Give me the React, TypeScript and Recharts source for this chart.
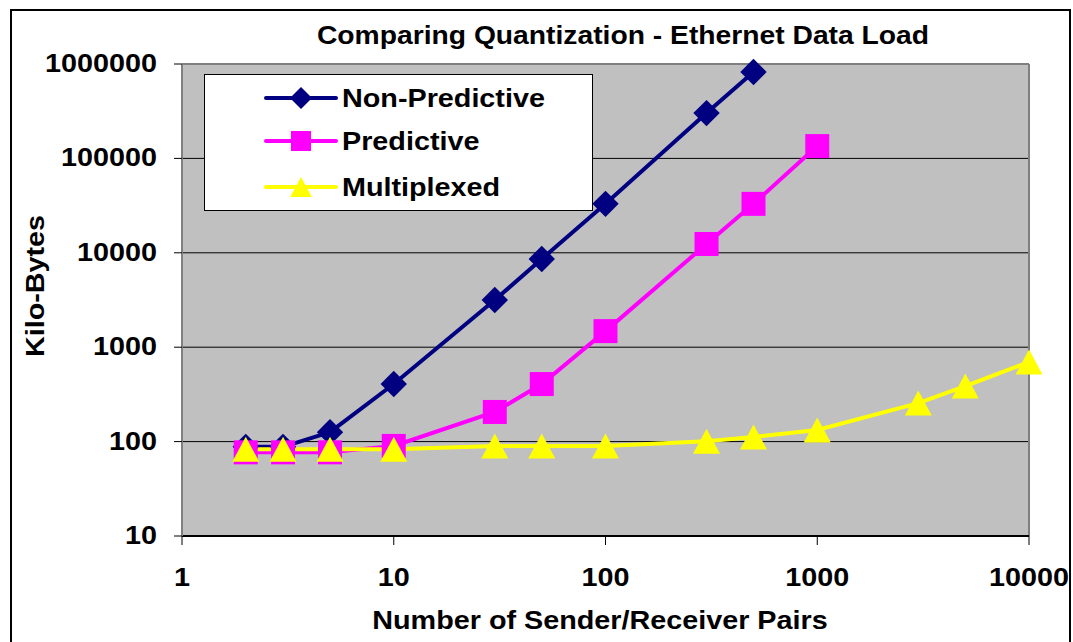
import React from 'react';
import { LineChart, Line, XAxis, YAxis, CartesianGrid, ReferenceLine, Legend } from 'recharts';

const nonPredX = [2, 3, 5, 10, 30, 50, 100, 300, 500];
const nonPredY = [88, 88, 126, 407, 3160, 8600, 33000, 302000, 822000];
const predX = [2, 3, 5, 10, 30, 50, 100, 300, 500, 1000];
const predY = [77, 77, 77, 90, 206, 407, 1480, 12400, 33000, 135000];
const multiX = [2, 3, 5, 10, 30, 50, 100, 300, 500, 1000, 3000, 5000, 10000];
const multiY = [83, 83, 83, 83, 90, 90, 90, 101, 112, 133, 256, 388, 697];

const xTicks = [1, 10, 100, 1000, 10000];
const yTicks = [10, 100, 1000, 10000, 100000, 1000000];

const seriesNames = ['Non-Predictive', 'Predictive', 'Multiplexed'];
const seriesColors = ['#000080', '#FF00FF', '#FFFF00'];

const toPoints = (xs: number[], ys: number[]) => xs.map((x, i) => ({ x, y: ys[i] }));
const nonPredData = toPoints(nonPredX, nonPredY);
const predData = toPoints(predX, predY);
const multiData = toPoints(multiX, multiY);

const FONT = '"Liberation Sans", Arial, sans-serif';
const STRETCH = 1.15;

const shapeFor = (kind: number, cx: number, cy: number, s: number, color: string, key?: string) => {
  if (kind === 0) {
    const h = s * 0.55;
    return <polygon key={key} points={`${cx},${cy - h} ${cx + h},${cy} ${cx},${cy + h} ${cx - h},${cy}`} fill={color} />;
  }
  if (kind === 1) {
    const h = s / 2;
    return <rect key={key} x={cx - h} y={cy - h} width={s} height={s} fill={color} />;
  }
  const w = s * 1.08;
  const hh = s;
  return <polygon key={key} points={`${cx},${cy - hh / 2} ${cx + w / 2},${cy + hh / 2} ${cx - w / 2},${cy + hh / 2}`} fill={color} />;
};

const makeDot = (kind: number, color: string, size: number) => (props: any) => {
  const { cx, cy, index } = props;
  if (cx == null || cy == null) return <g key={`e-${kind}-${index}`} />;
  return shapeFor(kind, cx, cy, size, color, `d-${kind}-${index}`);
};

const XTick = (props: any) => {
  const { x, y, payload } = props;
  return (
    <g transform={`translate(${x},${y})`}>
      <text
        transform={`scale(${STRETCH},1)`}
        textAnchor="middle"
        dy={13}
        fill="#000"
        fontSize={25}
        fontWeight="bold"
        fontFamily={FONT}
      >
        {payload.value}
      </text>
    </g>
  );
};

const YTick = (props: any) => {
  const { x, y, payload } = props;
  return (
    <g transform={`translate(${x},${y})`}>
      <text
        transform={`scale(${STRETCH},1)`}
        textAnchor="end"
        dy={8}
        fill="#000"
        fontSize={25}
        fontWeight="bold"
        fontFamily={FONT}
      >
        {payload.value}
      </text>
    </g>
  );
};

const textStyle = (size: number): React.CSSProperties => ({
  position: 'absolute',
  fontFamily: FONT,
  fontWeight: 'bold',
  fontSize: size,
  whiteSpace: 'nowrap',
  color: '#000',
  lineHeight: 1,
});

const LegendBox = () => (
  <div
    style={{
      width: 389,
      height: 137,
      background: '#fff',
      border: '1.5px solid #000',
      boxSizing: 'border-box',
      position: 'relative',
      fontFamily: FONT,
    }}
  >
    {seriesNames.map((name, i) => (
      <div key={name} style={{ position: 'absolute', left: 0, top: [23, 66, 112][i] - 20, height: 40, width: '100%' }}>
        <svg width={80} height={40} style={{ position: 'absolute', left: 58, top: 0 }}>
          <line x1={3} y1={20} x2={73} y2={20} stroke={seriesColors[i]} strokeWidth={4} strokeLinecap="round" />
          {shapeFor(i, 38, 20, 20, seriesColors[i])}
        </svg>
        <div
          style={{
            ...textStyle(25),
            left: 137,
            top: 20,
            transform: `translateY(-50%) scaleX(${STRETCH})`,
            transformOrigin: 'left center',
          }}
        >
          {name}
        </div>
      </div>
    ))}
  </div>
);

export default function App() {
  return (
    <div style={{ position: 'absolute', left: 0, top: 0, width: 1073, height: 642, overflow: 'hidden', background: '#fff' }}>
      <div
        style={{
          position: 'absolute',
          left: 10,
          top: 9,
          width: 1061,
          height: 700,
          border: '2px solid #000',
          boxSizing: 'border-box',
        }}
      />
      <div style={{ ...textStyle(25), left: 623, top: 35, transform: `translate(-50%, -50%) scaleX(1.13)` }}>
        Comparing Quantization - Ethernet Data Load
      </div>
      <div style={{ ...textStyle(25), left: 600, top: 620, transform: `translate(-50%, -50%) scaleX(${STRETCH})` }}>
        Number of Sender/Receiver Pairs
      </div>
      <div
        style={{
          ...textStyle(25),
          left: 35,
          top: 286,
          transform: `translate(-50%, -50%) rotate(-90deg) scaleX(${STRETCH})`,
        }}
      >
        Kilo-Bytes
      </div>
      <div style={{ position: 'absolute', left: 0, top: 0 }}>
        <LineChart width={1073} height={642} margin={{ top: 64, right: 44, bottom: 0, left: 0 }}>
          <CartesianGrid fill="#C0C0C0" vertical={false} stroke="#000" strokeWidth={1} />
          <XAxis
            dataKey="x"
            type="number"
            scale="log"
            domain={[1, 10000]}
            ticks={xTicks}
            interval={0}
            height={106}
            tickSize={9}
            tickMargin={28}
            axisLine={{ stroke: '#000', strokeWidth: 2 }}
            tickLine={{ stroke: '#000', strokeWidth: 1 }}
            tick={<XTick />}
          />
          <YAxis
            dataKey="y"
            type="number"
            scale="log"
            domain={[10, 1000000]}
            ticks={yTicks}
            interval={0}
            width={182}
            tickSize={8}
            tickMargin={17}
            axisLine={{ stroke: '#808080', strokeWidth: 2 }}
            tickLine={{ stroke: '#000', strokeWidth: 1 }}
            tick={<YTick />}
          />
          <ReferenceLine x={10000} stroke="#808080" strokeWidth={2} />
          <ReferenceLine y={1000000} stroke="#808080" strokeWidth={2} />
          <Legend
            layout="vertical"
            align="center"
            verticalAlign="middle"
            content={() => <LegendBox />}
            wrapperStyle={{ left: 204, top: 74, width: 389, height: 137 }}
          />
          <Line
            data={nonPredData}
            dataKey="y"
            name={seriesNames[0]}
            type="linear"
            stroke={seriesColors[0]}
            strokeWidth={4}
            dot={makeDot(0, seriesColors[0], 24)}
            activeDot={false}
            isAnimationActive={false}
          />
          <Line
            data={predData}
            dataKey="y"
            name={seriesNames[1]}
            type="linear"
            stroke={seriesColors[1]}
            strokeWidth={4}
            dot={makeDot(1, seriesColors[1], 24)}
            activeDot={false}
            isAnimationActive={false}
          />
          <Line
            data={multiData}
            dataKey="y"
            name={seriesNames[2]}
            type="linear"
            stroke={seriesColors[2]}
            strokeWidth={4}
            dot={makeDot(2, seriesColors[2], 25)}
            activeDot={false}
            isAnimationActive={false}
          />
        </LineChart>
      </div>
    </div>
  );
}
